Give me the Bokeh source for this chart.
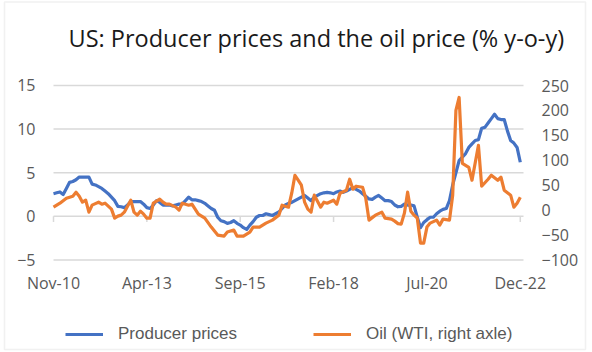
import pandas as pd
from bokeh.plotting import figure
from bokeh.models import (Range1d, LinearAxis, FixedTicker, Legend, LegendItem,
                          ColumnDataSource, Label, BoxAnnotation)
from bokeh.embed import file_html
from bokeh.resources import INLINE

# ---------------- data ----------------
months = list(pd.date_range("2010-11-01", "2022-12-01", freq="MS").strftime("%b-%y"))

producer_prices = [
    2.6, 2.7, 2.8, 2.5, 3.2, 3.9, 4.0, 4.2, 4.5, 4.5, 4.5, 4.5,
    3.7, 3.6, 3.4, 3.2, 2.9, 2.6, 2.2, 1.8, 1.15, 1.1, 1.0, 1.3,
    1.7, 1.7, 1.7, 1.7, 1.4, 1.0, 0.9, 1.3, 1.8, 1.6, 1.3, 1.3,
    1.3, 1.2, 1.3, 1.4, 1.4, 1.8, 2.2, 1.9, 1.9, 1.8, 1.7, 1.5,
    1.2, 0.9, 0.7, -0.1, -0.5, -0.6, -0.8, -0.7, -0.5, -0.8, -1.0, -1.3,
    -1.5, -1.0, -0.6, -0.1, 0.1, 0.1, 0.3, 0.2, 0.1, 0.3, 0.5, 0.9,
    1.3, 1.5, 1.6, 1.8, 2.0, 2.2, 2.4, 2.1, 1.8, 2.2, 2.4, 2.6,
    2.7, 2.75, 2.7, 2.6, 2.8, 2.9, 2.75, 2.9, 3.1, 3.3, 3.1, 2.9,
    2.6, 2.3, 2.0, 1.95, 2.2, 2.4, 2.1, 1.8, 1.8, 1.7, 1.3, 1.1,
    1.15, 1.4, 1.3, 1.3, 1.2, -0.1, -1.3, -0.7, -0.4, -0.1, -0.1, 0.3,
    0.6, 0.8, 0.9, 1.8, 3.6, 5.0, 6.4, 6.8, 7.2, 7.9, 8.3, 8.7,
    8.8, 10.1, 10.2, 10.7, 11.2, 11.7, 11.2, 11.1, 11.1, 9.8, 8.7, 8.4, 7.9, 6.2,
]

oil_wti = [
    6, 10, 14, 19, 24, 26, 28, 36, 28, 16, 20, -4,
    10, 13, 16, 12, 14, 8, 2, -16, -12, -10, -4, 8,
    20, -4, -10, -2, -8, -16, -16, 14, 18, 22, 16, 12,
    12, 9, 6, 0, 14, 12, 10, 12, 2, -8, -12, -16,
    -25, -34, -42, -50, -51, -52, -44, -42, -40, -52, -52, -52,
    -48, -44, -34, -34, -34, -30, -26, -23, -20, -15, -10, 10,
    8, 6, 34, 70, 60, 50, 16, 2, -4, 30, 18, 6,
    16, 14, 17, 20, 12, 34, 37, 40, 62, 42, 48, 47,
    46, 24, -20, -15, -10, -7, -4, -16, -17, -18, -22, -27,
    -28, -6, 36, -2, -10, -16, -66, -66, -34, -26, -23, -20,
    -30, -18, -19, -20, 30, 200, 226, 94, 90, 86, 60, 95,
    130, 48, 55, 62, 70, 65, 60, 66, 40, 35, 30, 6, 14, 26,
]

tick_labels = ["Nov-10", "Apr-13", "Sep-15", "Feb-18", "Jul-20", "Dec-22"]
left_ticks = [-5, 0, 5, 10, 15]
right_ticks = [-100, -50, 0, 50, 100, 150, 200, 250]

title_text = "US: Producer prices and the oil price (% y-o-y)"
series_names = ["Producer prices", "Oil (WTI, right axle)"]

# ---------------- figure ----------------
BLUE = "#4472C4"
ORANGE = "#ED7D31"
GRID = "#D9D9D9"
TXT = "#595959"

idx = list(range(len(months)))
n = len(months)
tick_pos = [months.index(t) for t in tick_labels]

# The frame covers the whole canvas; axes are pinned at the plot-area edges.
p = figure(frame_width=592, frame_height=352, output_backend="svg", toolbar_location=None,
           min_border=0,
           x_range=Range1d(-16.464, 167.43), y_range=Range1d(-15.602, 24.742))
p.extra_y_ranges = {"oil": Range1d(-285.5, 420.5)}
p.outline_line_color = None
p.background_fill_color = "white"
p.border_fill_color = "white"

# x axis along the -5 line
p.xaxis.fixed_location = left_ticks[0]
p.xaxis.ticker = FixedTicker(ticks=tick_pos)
p.xaxis.major_label_overrides = {t: l for t, l in zip(tick_pos, tick_labels)}
p.xaxis.axis_line_color = None
p.xaxis.major_tick_line_color = None
p.xaxis.minor_tick_line_color = None
p.xaxis.major_tick_out = 0
p.xaxis.major_tick_in = 0
p.xaxis.major_label_standoff = 12
p.xaxis.major_label_text_font = "Open Sans"
p.xaxis.major_label_text_font_size = "16px"
p.xaxis.major_label_text_color = TXT
p.xgrid.grid_line_color = None
p.ygrid.grid_line_color = None

# left axis at the first month
p.yaxis.fixed_location = 0
p.yaxis.ticker = FixedTicker(ticks=left_ticks)
p.yaxis.axis_line_color = None
p.yaxis.major_tick_line_color = None
p.yaxis.minor_tick_line_color = None
p.yaxis.major_tick_out = 0
p.yaxis.major_tick_in = 0
p.yaxis.major_label_standoff = 18
p.yaxis.major_label_text_font = "Open Sans"
p.yaxis.major_label_text_font_size = "16px"
p.yaxis.major_label_text_color = TXT

# right axis at the end of the plot area
ra = LinearAxis(y_range_name="oil", ticker=FixedTicker(ticks=right_ticks), fixed_location=n)
ra.axis_line_color = None
ra.major_tick_line_color = None
ra.minor_tick_line_color = None
ra.major_tick_out = 0
ra.major_tick_in = 0
ra.major_label_standoff = 18
ra.major_label_text_font = "Open Sans"
ra.major_label_text_font_size = "16px"
ra.major_label_text_color = TXT
p.add_layout(ra, "right")

# horizontal gridlines for the left-axis ticks, spanning the plot area
p.segment(x0=[0] * len(left_ticks), x1=[n] * len(left_ticks), y0=left_ticks, y1=left_ticks,
          line_color=GRID, line_width=1.5)

# category tick marks hanging below the zero line
p.segment(x0=tick_pos, x1=tick_pos, y0=[0] * len(tick_pos), y1=[-0.65] * len(tick_pos),
          line_color=GRID, line_width=1.5)

src = ColumnDataSource(dict(x=idx, ppi=producer_prices, oil=oil_wti))
r1 = p.line("x", "ppi", source=src, line_color=BLUE, line_width=3.2, line_join="round")
r2 = p.line("x", "oil", source=src, y_range_name="oil", line_color=ORANGE, line_width=3.2,
            line_join="round")

legend = Legend(items=[LegendItem(label=series_names[0], renderers=[r1]),
                       LegendItem(label=series_names[1], renderers=[r2])],
                orientation="horizontal", location=(65, 8),
                glyph_width=38, glyph_height=20, label_standoff=15, spacing=76,
                padding=0, margin=0, border_line_color=None, background_fill_alpha=0,
                label_text_font="Liberation Sans", label_text_font_size="17px",
                label_text_color=TXT)
p.add_layout(legend, "center")

p.add_layout(Label(x=68, y=315, x_units="screen", y_units="screen", text=title_text,
                   text_align="left", text_baseline="middle",
                   text_font="Open Sans", text_font_size="23.5px", text_color="#1a1a1a"))

p.add_layout(BoxAnnotation(left=4, right=585, bottom=3, top=350.5,
                           left_units="screen", right_units="screen",
                           bottom_units="screen", top_units="screen",
                           fill_alpha=0, line_color="#D0D0D0", line_width=1.5))

open("out.html", "w").write(file_html(p, INLINE))
